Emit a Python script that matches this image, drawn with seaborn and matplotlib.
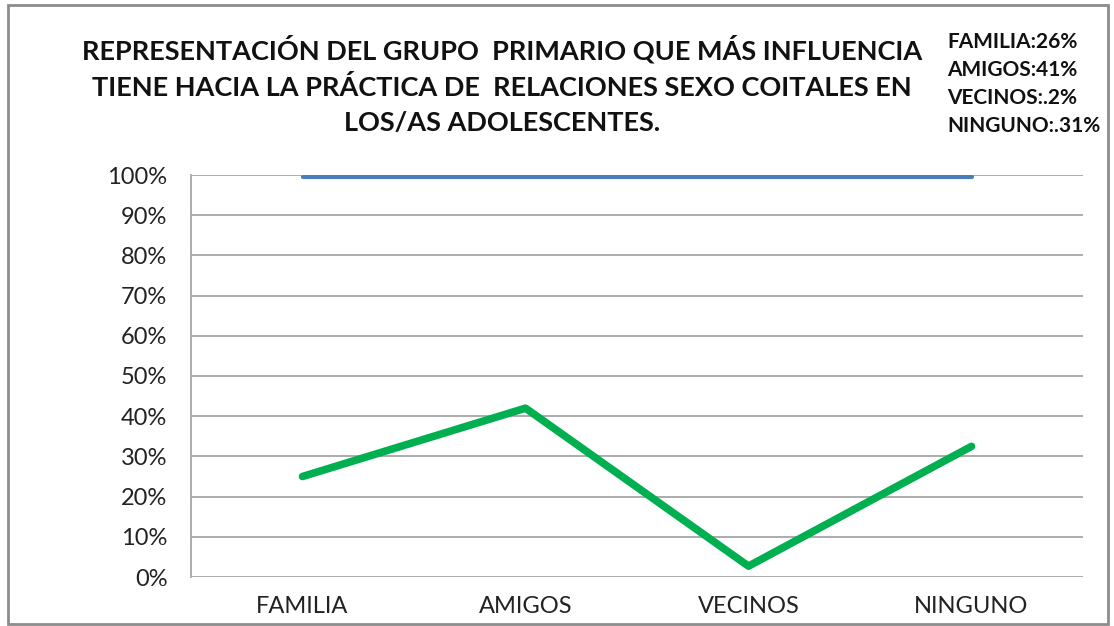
import matplotlib
matplotlib.use("Agg")
import matplotlib.pyplot as plt
import seaborn as sns
import pandas as pd
from matplotlib.patches import Rectangle
from matplotlib.ticker import PercentFormatter

categories = ["FAMILIA", "AMIGOS", "VECINOS", "NINGUNO"]
influencia = [0.25, 0.42, 0.027, 0.325]
total = [0.995, 0.995, 0.995, 0.995]
y_ticks = [0.0, 0.1, 0.2, 0.3, 0.4, 0.5, 0.6, 0.7, 0.8, 0.9, 1.0]
title_text = ("REPRESENTACIÓN DEL GRUPO  PRIMARIO QUE MÁS INFLUENCIA\n"
              "TIENE HACIA LA PRÁCTICA DE  RELACIONES SEXO COITALES EN\n"
              "LOS/AS ADOLESCENTES.")
note_lines = ["FAMILIA:26%", "AMIGOS:41%", "VECINOS:.2%", "NINGUNO:.31%"]

sns.set_theme(style="white")
plt.rcParams['font.family'] = ['Lato', 'DejaVu Sans']

df = pd.DataFrame({"cat": categories, "influencia": influencia, "total": total})

fig = plt.figure(figsize=(11.14, 6.26), dpi=100)
ax = fig.add_axes([191/1114, 49/626, 892/1114, 402/626])

sns.lineplot(data=df, x="cat", y="total", ax=ax, color="#4a7ebb", lw=3, sort=False, zorder=3)
sns.lineplot(data=df, x="cat", y="influencia", ax=ax, color="#00b050", lw=5.5, sort=False, zorder=4)

ax.set_xlim(-0.5, 3.5)
ax.set_ylim(0, 1.0)
ax.set_yticks(y_ticks)
ax.yaxis.set_major_formatter(PercentFormatter(1.0, decimals=0))
ax.set_xlabel("")
ax.set_ylabel("")
ax.grid(axis="y", color="#a6a6a6", lw=1.3)
ax.set_axisbelow(True)
for s in ["top", "right", "bottom"]:
    ax.spines[s].set_visible(False)
ax.spines["left"].set_color("#a6a6a6")
ax.spines["left"].set_linewidth(1.3)
ax.tick_params(axis="both", length=0, labelsize=17, colors="#222222")
ax.tick_params(axis="y", pad=17)
ax.tick_params(axis="x", pad=14)
ax.get_legend() and ax.get_legend().remove()

fig.text(502/1114, 1 - 85/626, title_text, ha="center", va="center",
         fontsize=19.5, fontweight="bold", linespacing=1.55, color="#111111")
for i, t in enumerate(note_lines):
    fig.text(947/1114, 1 - (42 + 28*i)/626, t, ha="left", va="center",
             fontsize=15, fontweight="bold", color="#111111")

fig.patches.append(Rectangle((8/1114, 2/626), 1100/1114, 619/626, transform=fig.transFigure,
                             fill=False, edgecolor="#8c8c8c", lw=2))

fig.savefig("out.png", dpi=100, facecolor="white")
